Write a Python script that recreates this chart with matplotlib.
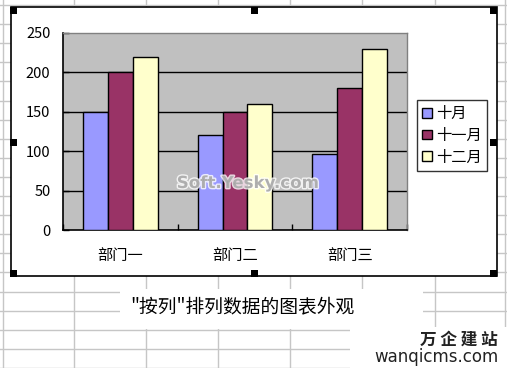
import numpy as np
import matplotlib
matplotlib.use("Agg")
import matplotlib.pyplot as plt
from matplotlib.patches import Rectangle
import matplotlib.patheffects as pe

plt.rcParams['font.family'] = ['Noto Sans CJK SC', 'DejaVu Sans']

# data
categories = ['部门一', '部门二', '部门三']
series_names = ['十月', '十一月', '十二月']
oct_vals = [150, 120, 97]
nov_vals = [200, 150, 180]
dec_vals = [220, 160, 230]
yticks = [0, 50, 100, 150, 200, 250]
caption = '"按列"排列数据的图表外观'

colors = ['#9999FF', '#993366', '#FFFFCC']

W, H = 507, 368
fig = plt.figure(figsize=(W / 100, H / 100), dpi=100)

# spreadsheet background (pixel coords)
bg = fig.add_axes([0, 0, 1, 1])
bg.set_xlim(0, W)
bg.set_ylim(H, 0)
bg.axis('off')
grid_c = '#c6c6c6'
for x in [2.5, 74, 146, 218, 290, 362, 435, 505]:
    bg.axvline(x, color=grid_c, lw=1)
for y in np.arange(5, H, 19.1):
    bg.axhline(y, color=grid_c, lw=1)

# white areas: caption cell and logo corner
bg.add_patch(Rectangle((120, 289), 303, 40, facecolor='white', edgecolor='none', zorder=2))
bg.add_patch(Rectangle((350, 327), 157, 41, facecolor='white', edgecolor='none', zorder=2))

# chart object box
bg.add_patch(Rectangle((11, 7), 486, 269, facecolor='white', edgecolor='black', lw=1.2, zorder=3))
for hx, hy in [(10, 7), (251, 7), (490, 7), (10, 139), (490, 139),
               (10, 270), (251, 270), (490, 270)]:
    bg.add_patch(Rectangle((hx, hy), 7, 7, facecolor='black', edgecolor='none', zorder=4))

bg.text(242, 307, caption, ha='center', va='center', fontsize=13.5, zorder=5)
bg.text(498, 340, '万 企 建 站', ha='right', va='center', fontsize=12,
        fontweight='bold', color='#222222', zorder=5)
bg.text(499, 357, 'wanqicms.com', ha='right', va='center', fontsize=12,
        family='DejaVu Sans', color='#222222', zorder=5)

# plot area
ax = fig.add_axes([63 / W, (H - 230) / H, 344 / W, 197 / H])
ax.set_facecolor('#C0C0C0')
x = np.arange(len(categories))
w = 0.217
for i, vals in enumerate([oct_vals, nov_vals, dec_vals]):
    ax.bar(x + (i - 1) * w, vals, w, color=colors[i], edgecolor='black',
           lw=1, label=series_names[i], zorder=3)

ax.set_xlim(-0.5, len(categories) - 0.5)
ax.set_ylim(yticks[0], yticks[-1])
for v in yticks[1:-1]:
    ax.axhline(v, color='black', lw=1, zorder=1)

ax.set_yticks(yticks)
ax.tick_params(axis='y', direction='in', length=4, width=1, pad=9, labelsize=10.5)
ax.set_xticks(np.arange(len(categories) + 1) - 0.5)
ax.set_xticklabels([])
ax.tick_params(axis='x', direction='in', length=4, width=1)
ax.set_xticks(x, minor=True)
ax.set_xticklabels(categories, minor=True)
ax.tick_params(axis='x', which='minor', length=0, pad=12, labelsize=11)

for s in ['left', 'bottom']:
    ax.spines[s].set_color('black')
    ax.spines[s].set_linewidth(1.2)
for s in ['top', 'right']:
    ax.spines[s].set_color('#808080')
    ax.spines[s].set_linewidth(1)

# watermark
ax.text(248, 183, 'Soft.Yesky.com', transform=bg.transData, ha='center', va='center',
        fontsize=12, fontweight='bold', family='DejaVu Sans', color='#a0a0a0', alpha=0.8,
        zorder=5, path_effects=[pe.withStroke(linewidth=2, foreground='white')])

leg = fig.legend(loc='upper left', bbox_to_anchor=(417 / W, 1 - 100 / H),
                 borderaxespad=0, fontsize=11, frameon=True, fancybox=False,
                 edgecolor='black', handlelength=0.6, handleheight=0.6,
                 handletextpad=0.3, labelspacing=0.3, borderpad=0.35)
leg.get_frame().set_linewidth(1)

fig.savefig('out.png', dpi=100)
